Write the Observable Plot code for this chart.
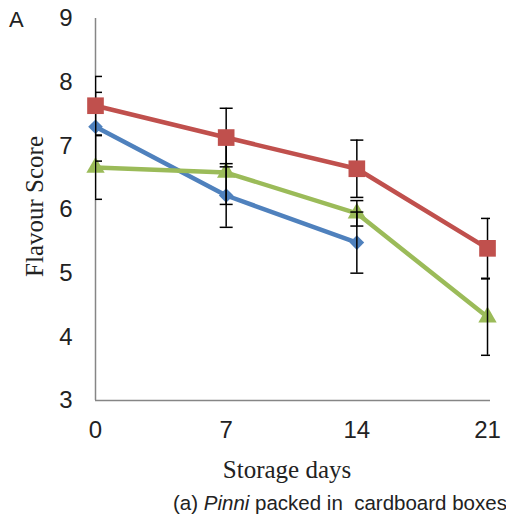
<!DOCTYPE html>
<html>
<head>
<meta charset="utf-8">
<script src="https://cdn.jsdelivr.net/npm/d3@7"></script>
<script src="https://cdn.jsdelivr.net/npm/@observablehq/plot@0.6"></script>
<style>
  body { margin: 0; background: #fff; }
  #chart { position: relative; width: 506px; height: 523px; overflow: hidden; }
  #chart svg { position: absolute; left: 0; top: 0; }
  #panel { position: absolute; left: 9px; top: 9px; font: 22px/22px "Liberation Sans", Arial, sans-serif; color: #222; }
  #caption { position: absolute; left: 173px; top: 493px; font: 20.5px/20px "Liberation Sans", Arial, sans-serif; color: #222; white-space: pre; }
</style>
</head>
<body>
<div id="chart">
  <div id="panel">A</div>
  <div id="caption">(a) <i>Pinni</i> packed in  cardboard boxes</div>
</div>
<script>
// Storage time points (days)
const days = [0, 7, 14, 21];
const yTicks = [3, 4, 5, 6, 7, 8, 9];

// Mean flavour scores per treatment (null = not measured)
const blueScores  = [7.30, 6.22, 5.48, null];
const redScores   = [7.63, 7.13, 6.64, 5.39];
const greenScores = [6.66, 6.58, 5.94, 4.31];

// Error bar half-lengths
const blueErr  = [0.54, 0.50, 0.48, null];
const redErr   = [0.46, 0.46, 0.45, 0.47];
const greenErr = [0.50, 0.50, 0.20, 0.60];

const seriesNames   = ["blue", "red", "green"];
const seriesColors  = ["#4F81BD", "#C0504D", "#9BBB59"];
const seriesSymbols = ["diamond2", "square", "triangle"];
const seriesRadius  = [6.6, 9.4, 6.8];

const scoreSets = [blueScores, redScores, greenScores];
const errSets = [blueErr, redErr, greenErr];

const rows = [];
seriesNames.forEach((name, s) => {
  days.forEach((day, i) => {
    const v = scoreSets[s][i];
    if (v == null) return;
    const e = errSets[s][i];
    rows.push({series: name, day, v, lo: v - e, hi: v + e});
  });
});

const caps = rows.flatMap(d => [{day: d.day, y: d.lo}, {day: d.day, y: d.hi}]);

// Horizontal whisker end used as a dot symbol
const capSymbol = {
  draw(context, size) {
    const w = Math.sqrt(size / Math.PI);
    context.moveTo(-w, 0);
    context.lineTo(w, 0);
  }
};

function seriesMarks(s) {
  const data = rows.filter(d => d.series === seriesNames[s]);
  return [
    Plot.line(data, {x: "day", y: "v", stroke: seriesColors[s], strokeWidth: 4.5}),
    Plot.dot(data, {x: "day", y: "v", fill: seriesColors[s], symbol: seriesSymbols[s], r: seriesRadius[s]})
  ];
}

const font = "'Liberation Sans', Arial, sans-serif";
const serif = "'Liberation Serif', 'Times New Roman', serif";

const chart = Plot.plot({
  width: 506,
  height: 490,
  marginLeft: 95,
  marginRight: 16,
  marginTop: 18,
  marginBottom: 90,
  style: {fontFamily: font, background: "transparent", overflow: "visible"},
  x: {domain: [0, 21.16]},
  y: {domain: [3, 9]},
  marks: [
    Plot.axisY({ticks: yTicks, tickFormat: "d", tickSize: 0, tickPadding: 23, fontSize: 24, fill: "#222", label: null}),
    Plot.axisX({ticks: days, tickFormat: "d", tickSize: 0, tickPadding: 20, fontSize: 24, fill: "#222", label: null}),
    Plot.ruleX([0], {stroke: "#868686", strokeWidth: 1.5}),
    Plot.ruleY([3], {stroke: "#868686", strokeWidth: 1.5}),
    ...seriesMarks(0),
    ...seriesMarks(2),
    Plot.ruleX(rows, {x: "day", y1: "lo", y2: "hi", stroke: "#000", strokeWidth: 1.5, clip: true}),
    Plot.dot(caps, {x: "day", y: "y", symbol: capSymbol, r: 6.5, stroke: "#000", strokeWidth: 1.5, fill: "none", clip: true}),
    ...seriesMarks(1),
    Plot.text(["Flavour Score"], {text: d => d, frameAnchor: "left", textAnchor: "middle", lineAnchor: "middle", dx: -61, dy: -3, rotate: -90, fontFamily: serif, fontSize: 25, fill: "#222"}),
    Plot.text(["Storage days"], {text: d => d, frameAnchor: "bottom", textAnchor: "middle", lineAnchor: "middle", dx: -6, dy: 69, fontFamily: serif, fontSize: 25, fill: "#222"})
  ]
});

document.getElementById("chart").prepend(chart);
</script>
</body>
</html>
